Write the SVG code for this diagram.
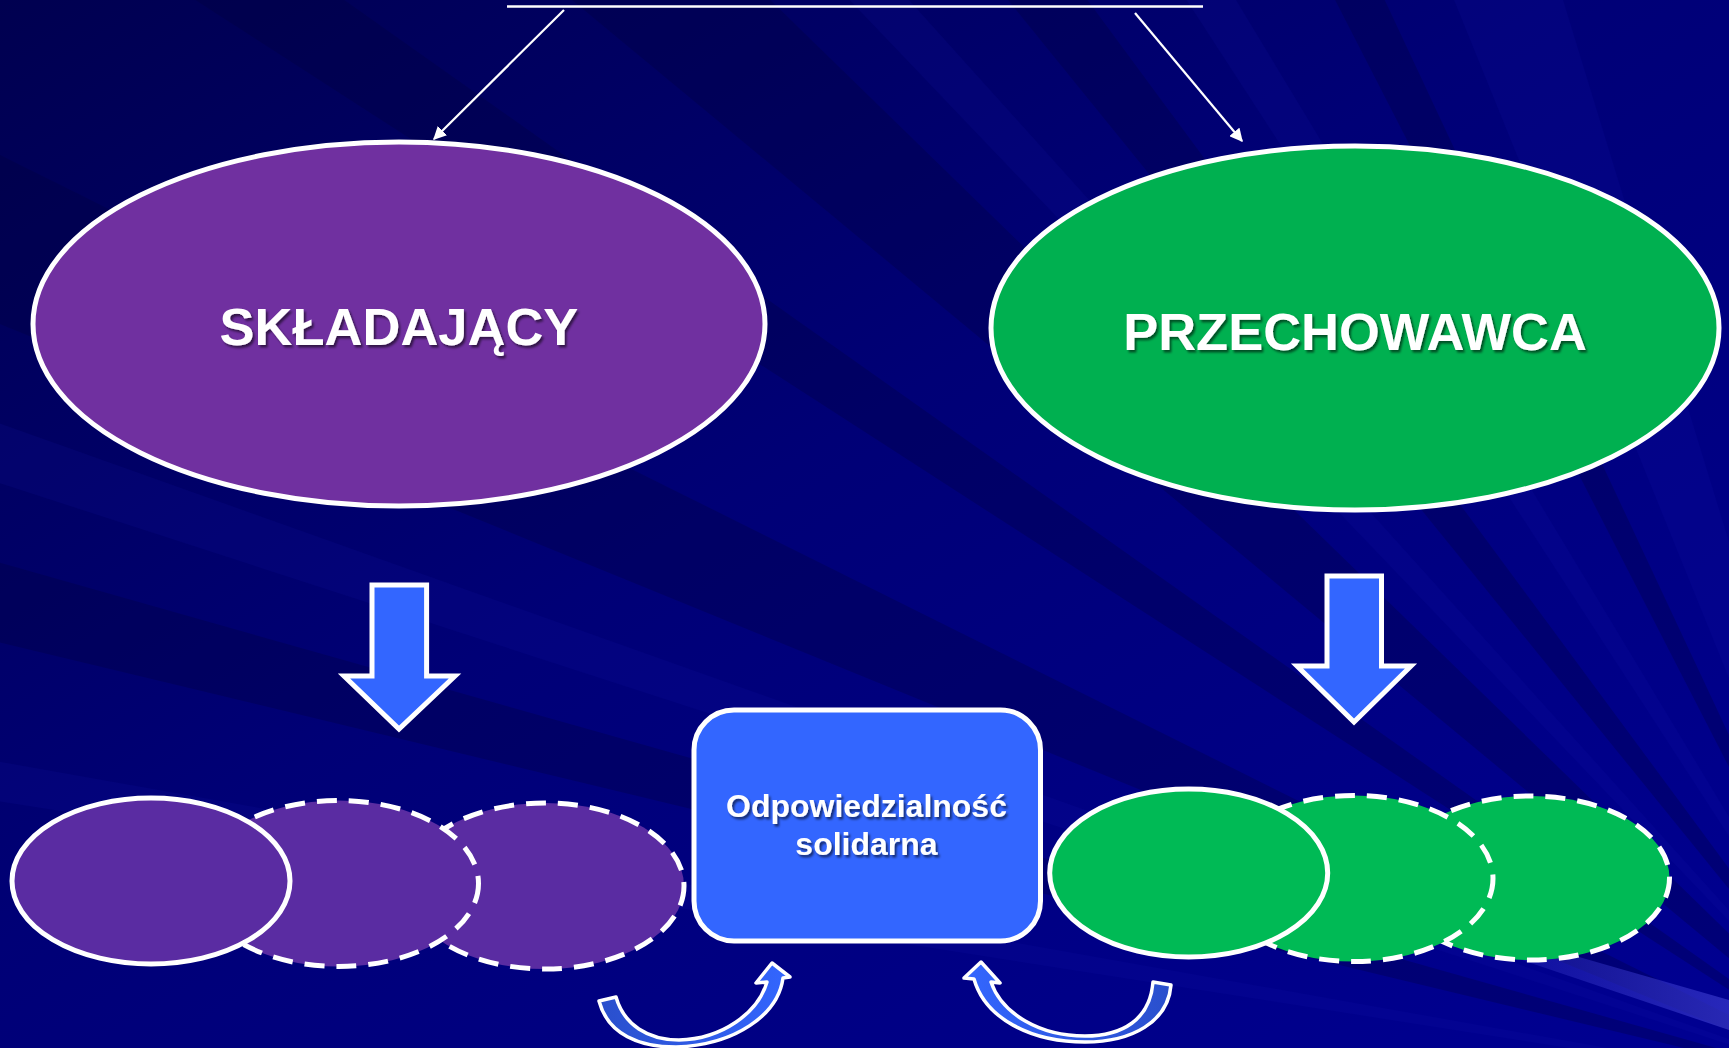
<svg xmlns="http://www.w3.org/2000/svg" width="1729" height="1048" viewBox="0 0 1729 1048">
<defs>
<style>
.t{font-family:"Liberation Sans",Arial,sans-serif;font-weight:bold;fill:#fff;text-anchor:middle;filter:url(#sh)}
.big{font-size:52.5px}
.small{font-size:32px}
.ol{stroke:#fff;stroke-width:5}
.dash{stroke:#fff;stroke-width:5;stroke-dasharray:20 12}
.blk{fill:#3366FF;stroke:#fff;stroke-width:5;stroke-linejoin:miter}
.thin{stroke:#fff;stroke-width:2.2;fill:none}
.dk{fill:#000038;opacity:.28}
.lt{fill:#1818B8;opacity:.12}
</style>
<linearGradient id="bg" x1="0" y1="0" x2="1" y2="1">
<stop offset="0" stop-color="#000050"/>
<stop offset="0.45" stop-color="#000076"/>
<stop offset="1" stop-color="#000092"/>
</linearGradient>
<linearGradient id="streak" x1="0" y1="0" x2="1" y2="0">
<stop offset="0" stop-color="#3535C8" stop-opacity="0"/>
<stop offset="1" stop-color="#3535C8" stop-opacity="0.75"/>
</linearGradient>
<linearGradient id="cl" x1="0" y1="0" x2="1" y2="0">
<stop offset="0" stop-color="#2A4FCC"/>
<stop offset="1" stop-color="#3366FF"/>
</linearGradient>
<linearGradient id="cr" x1="1" y1="0" x2="0" y2="0">
<stop offset="0" stop-color="#2A4FCC"/>
<stop offset="1" stop-color="#3366FF"/>
</linearGradient>
<filter id="sh" x="-10%" y="-30%" width="120%" height="160%">
<feDropShadow dx="2" dy="2.5" stdDeviation="1.2" flood-color="#000" flood-opacity="0.55"/>
</filter>
<marker id="ah" viewBox="0 0 10 10" refX="9" refY="5" markerWidth="6" markerHeight="6" markerUnits="strokeWidth" orient="auto">
<path d="M0,0 L10,5 L0,10 Z" fill="#fff"/>
</marker>
</defs>

<g id="background">
<rect x="0" y="0" width="1729" height="1048" fill="url(#bg)"/>
<polygon class="dk" points="1900,1100 560,-10 760,-10"/>
<polygon class="dk" points="1900,1100 1000,-10 1080,-10"/>
<polygon class="dk" points="1900,1100 1330,-10 1380,-10"/>
<polygon class="dk" points="1900,1100 -10,150 -10,320"/>
<polygon class="dk" points="1900,1100 -10,560 -10,640"/>
<polygon class="dk" points="1900,1100 180,-10 330,-10"/>
<polygon class="lt" points="1900,1100 840,-10 900,-10"/>
<polygon class="lt" points="1900,1100 1450,-10 1560,-10"/>
<polygon class="lt" points="1900,1100 -10,420 -10,480"/>
<polygon class="lt" points="1900,1100 -10,760 -10,800"/>
<polygon class="lt" points="1900,1100 1180,-10 1230,-10"/>
<polygon fill="url(#streak)" points="1380,900 1729,1000 1729,1030 1380,912"/>
</g>

<g id="title-underline">
<line x1="507" y1="6.5" x2="1203" y2="6.5" stroke="#fff" stroke-width="2.5"/>
</g>

<g id="connectors">
<line class="thin" x1="564" y1="10" x2="434" y2="139" marker-end="url(#ah)"/>
<line class="thin" x1="1135" y1="13" x2="1242" y2="141" marker-end="url(#ah)"/>
<polygon class="blk" points="372,585 426.6,585 426.6,676 455,676 399,729 344,676 372,676"/>
<polygon class="blk" points="1327,576 1381.5,576 1381.5,666 1411,666 1354,722 1297,666 1327,666"/>
<path id="curve-left" fill="url(#cl)" stroke="#fff" stroke-width="3.5" stroke-linejoin="round" d="M599,1001 C608,1035 640,1047 676,1047 C735,1045 778,1015 783,978 L790,977 L772,963 L756,983 L767,982 C758,1013 722,1039 679,1040 C648,1040 624,1025 616,997 Z"/>
<path id="curve-right" fill="url(#cr)" stroke="#fff" stroke-width="3.5" stroke-linejoin="round" d="M1171,985 C1168,1022 1132,1042 1085,1042 C1030,1042 985,1018 974,979 L964,978 L981,962 L1000,983 L991,982 C1002,1014 1040,1036 1085,1036 C1122,1036 1150,1020 1153,982 Z"/>
</g>

<g id="skladajacy">
<ellipse cx="399" cy="324" rx="366" ry="182" fill="#7030A0" class="ol"/>
<text class="t big" x="399" y="345">SKŁADAJĄCY</text>
</g>

<g id="przechowawca">
<ellipse cx="1355" cy="328" rx="364" ry="182" fill="#00B050" class="ol"/>
<text class="t big" x="1355" y="350">PRZECHOWAWCA</text>
</g>

<g id="purple-3">
<ellipse cx="545" cy="886" rx="139" ry="83" fill="#5A2CA2" class="dash"/>
</g>
<g id="purple-2">
<ellipse cx="338.5" cy="883.5" rx="140" ry="83" fill="#5A2CA2" class="dash"/>
</g>
<g id="purple-1">
<ellipse cx="151" cy="881" rx="139" ry="83" fill="#5A2CA2" class="ol"/>
</g>

<g id="green-3">
<ellipse cx="1530.5" cy="878" rx="139" ry="82" fill="#00BA55" class="dash"/>
</g>
<g id="green-2">
<ellipse cx="1354" cy="878.5" rx="139" ry="83" fill="#00BA55" class="dash"/>
</g>
<g id="green-1">
<ellipse cx="1188.7" cy="873" rx="139" ry="84" fill="#00BA55" class="ol"/>
</g>

<g id="odpowiedzialnosc">
<rect x="694" y="710" width="346.5" height="231" rx="40" ry="40" fill="#3366FF" stroke="#fff" stroke-width="5"/>
<text class="t small" x="866.5" y="817">Odpowiedzialność</text>
<text class="t small" x="866.5" y="855">solidarna</text>
</g>
</svg>
